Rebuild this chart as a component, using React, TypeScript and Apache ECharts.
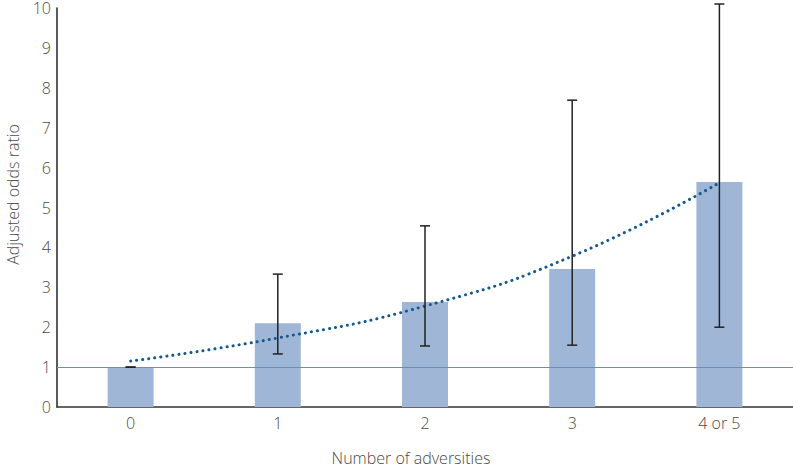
import React, { useEffect, useRef } from "react";
import * as echarts from "echarts";

const categories = ["0", "1", "2", "3", "4 or 5"];
const oddsRatios = [1.0, 2.1, 2.63, 3.46, 5.64];
const ciLower = [1.0, 1.33, 1.53, 1.55, 2.0];
const ciUpper = [1.0, 3.33, 4.54, 7.69, 10.1];
const trendValues = [1.15, 1.73, 2.53, 3.78, 5.62];
const referenceValue = 1;

export default function App() {
  const ref = useRef<HTMLDivElement>(null);
  useEffect(() => {
    document.body.style.margin = "0";
    const chart = echarts.init(ref.current!, null, { renderer: "svg" });
    const font = "'Open Sans', 'Noto Sans', sans-serif";
    const textStyle = { color: "#4a4a4a", fontSize: 16, fontFamily: font, fontWeight: 300 };
    chart.setOption({
      animation: false,
      backgroundColor: "#ffffff",
      grid: { left: 57, right: 0, top: 8, bottom: 61, outerBoundsMode: "none", containLabel: false },
      xAxis: {
        type: "category",
        data: categories,
        name: "Number of adversities",
        nameLocation: "middle",
        nameGap: 43,
        nameTextStyle: { ...textStyle, padding: [0, 28, 0, 0] },
        axisLine: { lineStyle: { color: "#333", width: 1.6 } },
        axisTick: { show: false },
        axisLabel: { ...textStyle, margin: 8 },
      },
      yAxis: {
        type: "value",
        min: 0,
        max: 10,
        interval: 1,
        name: "Adjusted odds ratio",
        nameLocation: "middle",
        nameGap: 36,
        nameRotate: 90,
        nameTextStyle: { ...textStyle, padding: [0, 0, 0, 26] },
        axisLine: { show: true, lineStyle: { color: "#333", width: 1.6 } },
        axisTick: { show: false },
        splitLine: { show: false },
        axisLabel: { ...textStyle, margin: 6 },
      },
      series: [
        {
          type: "bar",
          data: oddsRatios,
          barWidth: 46,
          itemStyle: { color: "#a0b6d6" },
          z: 2,
        },
        {
          type: "custom",
          data: [[0, referenceValue]],
          silent: true,
          renderItem: (params: any, api: any) => {
            const p = api.coord([0, api.value(1)]);
            const cs = params.coordSys;
            const y = Math.round(p[1]) + 0.5;
            return {
              type: "line",
              shape: { x1: cs.x, y1: y, x2: cs.x + cs.width, y2: y },
              style: { stroke: "#5b90d2", lineWidth: 1.2 },
            };
          },
          z: 3,
        },
        {
          type: "line",
          data: trendValues,
          smooth: true,
          symbol: "none",
          lineStyle: { color: "#16598f", width: 3, type: [0.1, 6], cap: "round" },
          z: 4,
        },
        {
          type: "custom",
          data: categories.map((_, i) => [i, ciLower[i], ciUpper[i]]),
          renderItem: (params: any, api: any) => {
            const i = api.value(0);
            const lo = api.coord([i, api.value(1)]);
            const hi = api.coord([i, api.value(2)]);
            const half = 5;
            const style = { stroke: "#222", lineWidth: 1.5 };
            return {
              type: "group",
              children: [
                { type: "line", shape: { x1: lo[0], y1: lo[1], x2: hi[0], y2: hi[1] }, style },
                { type: "line", shape: { x1: hi[0] - half, y1: hi[1], x2: hi[0] + half, y2: hi[1] }, style },
                { type: "line", shape: { x1: lo[0] - half, y1: lo[1], x2: lo[0] + half, y2: lo[1] }, style },
              ],
            };
          },
          z: 5,
        },
      ],
    });
    return () => chart.dispose();
  }, []);
  return <div ref={ref} style={{ width: 793, height: 468 }} />;
}
